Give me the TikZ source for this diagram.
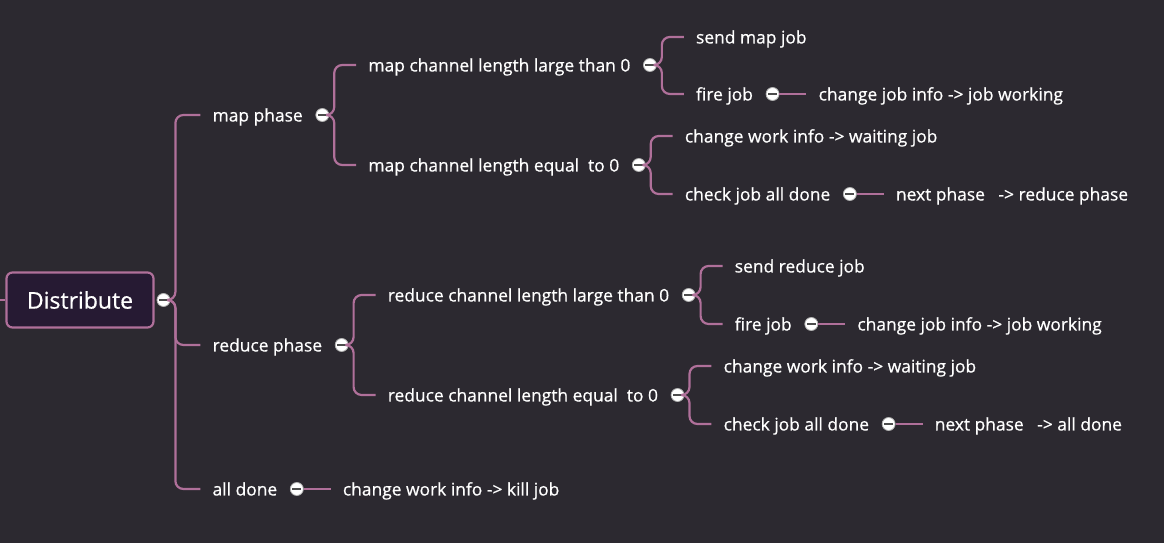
\documentclass[tikz,border=0pt]{standalone}
\usepackage{fontspec}
\setmainfont{Open Sans}
\newfontfamily\mindfont[FakeBold=0.6]{Open Sans}
\usetikzlibrary{positioning}
\definecolor{bg}{HTML}{2C2930}
\definecolor{branchc}{HTML}{B0709A}
\definecolor{rootfill}{HTML}{261A33}
\begin{document}
\begin{tikzpicture}[x=1pt,y=1pt]
\tikzstyle{topic}=[text=white, font=\mindfont\fontsize{17.4}{20}\selectfont, inner xsep=12pt, inner ysep=2pt, text height=15pt, text depth=2pt]
\tikzstyle{root}=[draw=branchc, fill=rootfill, line width=2.2pt, rounded corners=6pt, minimum width=147pt, minimum height=55pt, text=white, font=\mindfont\fontsize{23}{27}\selectfont]
\tikzstyle{fold}=[circle, draw=gray!60, fill=white, line width=0.8pt, minimum size=13pt, inner sep=0pt, path picture={\draw[line width=2pt, black!70] ([xshift=-4.5pt]path picture bounding box.center) -- ([xshift=4.5pt]path picture bounding box.center);}]
\tikzstyle{branch}=[draw=branchc, line width=2.2pt, rounded corners=8pt]
\fill[bg] (0,0) rectangle (1164,543);
\useasboundingbox (0,0) rectangle (1164,543);
\coordinate (src) at (0,243);
\node[root] (dist) at (80,243) {Distribute};
\node[fold, right=2pt of dist] (f0) {};
% first level
\node[topic, right=30pt of f0, yshift=185pt] (map) {map phase};
\node[topic, right=30pt of f0, yshift=-45pt] (red) {reduce phase};
\node[topic, right=30pt of f0, yshift=-189pt] (done) {all done};
\node[fold, right=0.5pt of map] (fmap) {};
\node[fold, right=0.5pt of red] (fred) {};
\node[fold, right=0.5pt of done] (fdone) {};
\node[topic, right=27pt of fdone] (kill) {change work info -> kill job};
% map phase
\node[topic, right=27pt of fmap, yshift=50pt] (mlarge) {map channel length large than 0};
\node[topic, right=27pt of fmap, yshift=-50pt] (mequal) {map channel length equal\ \ to 0};
\node[fold, right=0.5pt of mlarge] (fml) {};
\node[fold, right=0.5pt of mequal] (fme) {};
\node[topic, right=27pt of fml, yshift=28pt] (msend) {send map job};
\node[topic, right=27pt of fml, yshift=-29pt] (mfire) {fire job};
\node[fold, right=0.5pt of mfire] (fmf) {};
\node[topic, right=27pt of fmf] (mwork) {change job info -> job working};
\node[topic, right=27pt of fme, yshift=29pt] (mwait) {change work info -> waiting job};
\node[topic, right=27pt of fme, yshift=-29pt] (mcheck) {check job all done};
\node[fold, right=0.5pt of mcheck] (fmc) {};
\node[topic, right=27pt of fmc] (mnext) {next phase\ \ \ -> reduce phase};
% reduce phase
\node[topic, right=27pt of fred, yshift=50pt] (rlarge) {reduce channel length large than 0};
\node[topic, right=27pt of fred, yshift=-50pt] (requal) {reduce channel length equal\ \ to 0};
\node[fold, right=0.5pt of rlarge] (frl) {};
\node[fold, right=0.5pt of requal] (fre) {};
\node[topic, right=27pt of frl, yshift=29pt] (rsend) {send reduce job};
\node[topic, right=27pt of frl, yshift=-29pt] (rfire) {fire job};
\node[fold, right=0.5pt of rfire] (frf) {};
\node[topic, right=27pt of frf] (rwork) {change job info -> job working};
\node[topic, right=27pt of fre, yshift=29pt] (rwait) {change work info -> waiting job};
\node[topic, right=27pt of fre, yshift=-29pt] (rcheck) {check job all done};
\node[fold, right=0.5pt of rcheck] (frc) {};
\node[topic, right=27pt of frc] (rnext) {next phase\ \ \ -> all done};
% branches
\draw[branch] (src) -- (dist.west);
\foreach \p/\c in {f0/map, f0/red, f0/done, fmap/mlarge, fmap/mequal, fml/msend, fml/mfire, fme/mwait, fme/mcheck, fred/rlarge, fred/requal, frl/rsend, frl/rfire, fre/rwait, fre/rcheck}
  \draw[branch] (\p.east) -- ++(5,0) |- (\c.west);
\foreach \p/\c in {fdone/kill, fmf/mwork, fmc/mnext, frf/rwork, frc/rnext}
  \draw[branch] (\p.east) -- (\c.west);
\end{tikzpicture}
\end{document}
